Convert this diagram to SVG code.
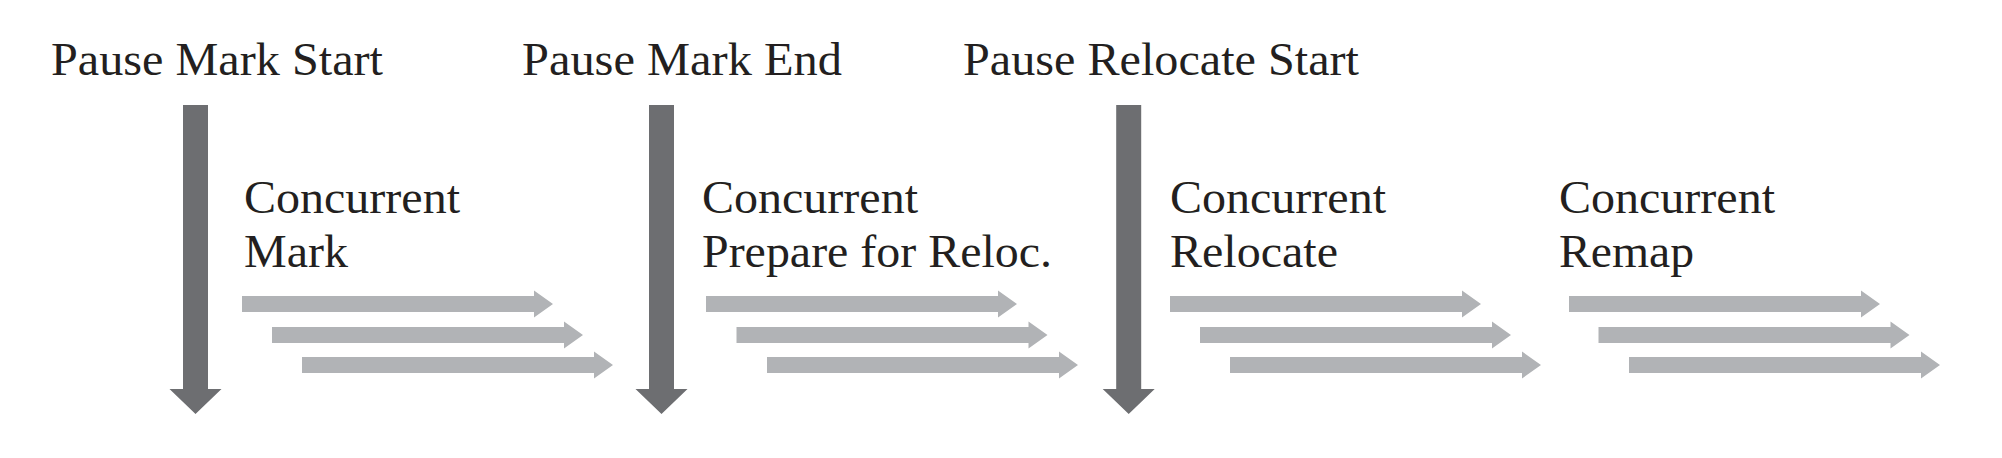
<svg xmlns="http://www.w3.org/2000/svg" xmlns:xlink="http://www.w3.org/1999/xlink" width="2002" height="458" viewBox="0 0 2002 458">
<style>
  text { font-family: "Liberation Serif", "Times New Roman", serif; font-size: 46px; fill: #231f20; }
  .pause { fill: #6d6e71; }
  .conc { fill: #b1b3b6; }
</style>
<defs>
  <path id="harrow" class="conc" d="M0 -8 H292 V-13.5 L311 0 L292 13.5 V8 H0 Z"/>
  <path id="varrow" class="pause" d="M-12.5 0 V284 H-26 L0 309 L26 284 H12.5 V0 Z"/>
</defs>
<rect width="2002" height="458" fill="#ffffff"/>

<g id="pause-mark-start">
  <text x="51" y="75" textLength="332" lengthAdjust="spacingAndGlyphs">Pause Mark Start</text>
</g>
<g id="pause-mark-end">
  <text x="522" y="75" textLength="320" lengthAdjust="spacingAndGlyphs">Pause Mark End</text>
</g>
<g id="pause-relocate-start">
  <text x="963" y="75" textLength="396" lengthAdjust="spacingAndGlyphs">Pause Relocate Start</text>
</g>

<g id="concurrent-mark">
  <text x="244" y="212.5" textLength="216" lengthAdjust="spacingAndGlyphs">Concurrent</text>
  <text x="244" y="266.5" textLength="104" lengthAdjust="spacingAndGlyphs">Mark</text>
</g>
<g id="concurrent-prepare">
  <text x="702" y="212.5" textLength="216" lengthAdjust="spacingAndGlyphs">Concurrent</text>
  <text x="702" y="266.5" textLength="350" lengthAdjust="spacingAndGlyphs">Prepare for Reloc.</text>
</g>
<g id="concurrent-relocate">
  <text x="1170" y="212.5" textLength="216" lengthAdjust="spacingAndGlyphs">Concurrent</text>
  <text x="1170" y="266.5" textLength="168" lengthAdjust="spacingAndGlyphs">Relocate</text>
</g>
<g id="concurrent-remap">
  <text x="1559" y="212.5" textLength="216" lengthAdjust="spacingAndGlyphs">Concurrent</text>
  <text x="1559" y="266.5" textLength="135" lengthAdjust="spacingAndGlyphs">Remap</text>
</g>

<g id="connectors">
  <use xlink:href="#varrow" href="#varrow" x="195.5" y="105"/>
  <use xlink:href="#varrow" href="#varrow" x="661.5" y="105"/>
  <use xlink:href="#varrow" href="#varrow" x="1128.7" y="105"/>

  <use xlink:href="#harrow" href="#harrow" x="242" y="304"/>
  <use xlink:href="#harrow" href="#harrow" x="272" y="335"/>
  <use xlink:href="#harrow" href="#harrow" x="302" y="365"/>

  <use xlink:href="#harrow" href="#harrow" x="706" y="304"/>
  <use xlink:href="#harrow" href="#harrow" x="736.5" y="335"/>
  <use xlink:href="#harrow" href="#harrow" x="767" y="365"/>

  <use xlink:href="#harrow" href="#harrow" x="1170" y="304"/>
  <use xlink:href="#harrow" href="#harrow" x="1200" y="335"/>
  <use xlink:href="#harrow" href="#harrow" x="1230" y="365"/>

  <use xlink:href="#harrow" href="#harrow" x="1569" y="304"/>
  <use xlink:href="#harrow" href="#harrow" x="1598.5" y="335"/>
  <use xlink:href="#harrow" href="#harrow" x="1629" y="365"/>
</g>
</svg>
